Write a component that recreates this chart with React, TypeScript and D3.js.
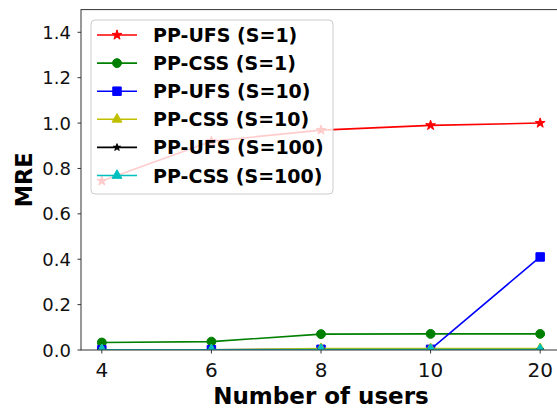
import React, { useRef, useEffect } from "react";
import * as d3 from "d3";

const users = ["4", "6", "8", "10", "20"];
const ufsS1 = [0.745, 0.92, 0.969, 0.99, 1.0];
const cssS1 = [0.033, 0.037, 0.07, 0.071, 0.071];
const ufsS10 = [0.001, 0.001, 0.003, 0.003, 0.41];
const cssS10 = [0.001, 0.001, 0.006, 0.006, 0.006];
const ufsS100 = [0, 0, 0, 0, 0];
const cssS100 = [0.001, 0.001, 0.002, 0.002, 0.002];
const yTicks = [0, 0.2, 0.4, 0.6, 0.8, 1.0, 1.2, 1.4];

const seriesList = [
  { name: "PP-UFS (S=1)", values: ufsS1, color: "#ff0000", symbol: d3.symbolStar, size: 30 },
  { name: "PP-CSS (S=1)", values: cssS1, color: "#008000", symbol: d3.symbolCircle, size: 62 },
  { name: "PP-UFS (S=10)", values: ufsS10, color: "#0000ff", symbol: d3.symbolSquare, size: 72 },
  { name: "PP-CSS (S=10)", values: cssS10, color: "#bfbf00", symbol: d3.symbolTriangle, size: 42 },
  { name: "PP-UFS (S=100)", values: ufsS100, color: "#000000", symbol: d3.symbolStar, size: 16 },
  { name: "PP-CSS (S=100)", values: cssS100, color: "#00bfbf", symbol: d3.symbolTriangle, size: 42 }
];

const W = 557,
  H = 408;
const left = 81,
  right = 561,
  top = 9.6,
  bottom = 350;

const App = () => {
  const node: any = useRef();

  useEffect(() => {
    const svg = d3.select(node.current);
    svg.selectAll("*").remove();

    const x = d3.scalePoint().domain(users).range([left, right]).padding(0.19);
    const y = d3.scaleLinear().domain([0, 1.5]).range([bottom, top]);

    svg
      .append("defs")
      .append("clipPath")
      .attr("id", "plotclip")
      .append("rect")
      .attr("x", left)
      .attr("y", top)
      .attr("width", right - left)
      .attr("height", bottom - top);

    const plot = svg.append("g").attr("clip-path", "url(#plotclip)");
    const line = d3
      .line<number>()
      .x((_, i) => x(users[i]) as number)
      .y(d => y(d));

    seriesList.forEach(s => {
      plot
        .append("path")
        .attr("d", line(s.values))
        .attr("fill", "none")
        .attr("stroke", s.color)
        .attr("stroke-width", 1.6);
      plot
        .selectAll(null)
        .data(s.values)
        .enter()
        .append("path")
        .attr("d", d3.symbol().type(s.symbol).size(s.size)() as string)
        .attr("transform", (d, i) => `translate(${x(users[i])},${y(d)})`)
        .attr("fill", s.color)
        .attr("stroke", s.color)
        .attr("stroke-width", 1);
    });

    // spines
    const axisColor = "#333";
    svg
      .append("rect")
      .attr("x", left)
      .attr("y", top)
      .attr("width", right - left)
      .attr("height", bottom - top)
      .attr("fill", "none")
      .attr("stroke", axisColor)
      .attr("stroke-width", 1);

    // y ticks
    yTicks.forEach(t => {
      svg
        .append("line")
        .attr("x1", left - 3.5)
        .attr("x2", left)
        .attr("y1", y(t))
        .attr("y2", y(t))
        .attr("stroke", axisColor);
      svg
        .append("text")
        .attr("x", left - 10)
        .attr("y", y(t) + 6.5)
        .attr("text-anchor", "end")
        .attr("font-family", "DejaVu Sans")
        .attr("font-size", 18)
        .attr("fill", "#111")
        .text(t.toFixed(1));
    });

    // x ticks
    users.forEach(u => {
      svg
        .append("line")
        .attr("x1", x(u) as number)
        .attr("x2", x(u) as number)
        .attr("y1", bottom)
        .attr("y2", bottom + 3.5)
        .attr("stroke", axisColor);
      svg
        .append("text")
        .attr("x", x(u) as number)
        .attr("y", 377)
        .attr("text-anchor", "middle")
        .attr("font-family", "DejaVu Sans")
        .attr("font-size", 20)
        .attr("fill", "#111")
        .text(u);
    });

    svg
      .append("text")
      .attr("x", (left + right) / 2)
      .attr("y", 404)
      .attr("text-anchor", "middle")
      .attr("font-family", "DejaVu Sans")
      .attr("font-weight", "bold")
      .attr("font-size", 23)
      .text("Number of users");

    svg
      .append("text")
      .attr("transform", `translate(32,${(top + bottom) / 2}) rotate(-90)`)
      .attr("text-anchor", "middle")
      .attr("font-family", "DejaVu Sans")
      .attr("font-weight", "bold")
      .attr("font-size", 22.5)
      .text("MRE");

    // legend
    const legend = svg.append("g");
    legend
      .append("rect")
      .attr("x", 91)
      .attr("y", 20)
      .attr("width", 242)
      .attr("height", 174)
      .attr("rx", 4)
      .attr("fill", "white")
      .attr("fill-opacity", 0.8)
      .attr("stroke", "#cccccc")
      .attr("stroke-width", 1);

    seriesList.forEach((s, i) => {
      const cy = 35 + i * 28.1;
      legend
        .append("line")
        .attr("x1", 97)
        .attr("x2", 137)
        .attr("y1", cy)
        .attr("y2", cy)
        .attr("stroke", s.color)
        .attr("stroke-width", 1.6);
      legend
        .append("path")
        .attr("d", d3.symbol().type(s.symbol).size(s.size)() as string)
        .attr("transform", `translate(117,${cy})`)
        .attr("fill", s.color)
        .attr("stroke", s.color);
      legend
        .append("text")
        .attr("x", 153)
        .attr("y", cy + 7)
        .attr("font-family", "DejaVu Sans")
        .attr("font-weight", "bold")
        .attr("font-size", 19)
        .text(s.name);
    });
  }, []);

  return (
    <svg
      ref={node}
      width={W}
      height={H}
      style={{ position: "absolute", left: 0, top: 0, background: "white" }}
    ></svg>
  );
};

export default App;
